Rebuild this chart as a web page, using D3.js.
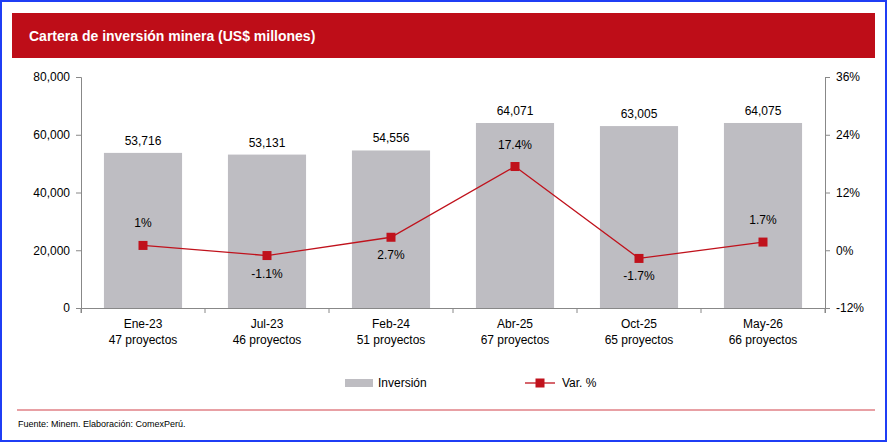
<!DOCTYPE html>
<html><head><meta charset="utf-8">
<script src="https://cdn.jsdelivr.net/npm/d3@7"></script>
<style>body{margin:0;background:#fff;font-family:"Liberation Sans",Arial,sans-serif}</style>
</head><body><div id="chart"></div>
<script>
var w = 887, h = 442;
var periods = ["Ene-23", "Jul-23", "Feb-24", "Abr-25", "Oct-25", "May-26"];
var projects = ["47 proyectos", "46 proyectos", "51 proyectos", "67 proyectos", "65 proyectos", "66 proyectos"];
var inversion = [53716, 53131, 54556, 64071, 63005, 64075];
var varPct = [1, -1.1, 2.7, 17.4, -1.7, 1.7];
var varLabels = ["1%", "-1.1%", "2.7%", "17.4%", "-1.7%", "1.7%"];
var leftTicks = [0, 20000, 40000, 60000, 80000];
var rightTicks = [-12, 0, 12, 24, 36];

var svg = d3.select("#chart").append("svg").attr("width", w).attr("height", h);

// frame
svg.append("rect").attr("x", 1).attr("y", 1).attr("width", w - 2).attr("height", h - 2)
   .attr("fill", "none").attr("stroke", "#1f3df5").attr("stroke-width", 2);

// header
svg.append("rect").attr("x", 12).attr("y", 13).attr("width", 863).attr("height", 45).attr("fill", "#be0d18");
svg.append("text").attr("x", 29).attr("y", 41).attr("fill", "#fff")
   .style("font-size", "14px").style("font-weight", "bold")
   .text("Cartera de inversión minera (US$ millones)");

var pLeft = 81, pRight = 825, pTop = 77, pBottom = 308;
var x = d3.scaleBand().domain(periods).range([pLeft, pRight]).paddingInner(0.37).paddingOuter(0.185);
var y = d3.scaleLinear().domain([0, 80000]).range([pBottom, pTop]);
var y2 = d3.scaleLinear().domain([-12, 36]).range([pBottom, pTop]);

var ax = svg.append("g").attr("transform", "translate(" + pLeft + ",0)")
  .call(d3.axisLeft(y).tickValues(leftTicks).tickSize(5).tickPadding(6).tickFormat(d3.format(",")));
var ax2 = svg.append("g").attr("transform", "translate(" + pRight + ",0)")
  .call(d3.axisRight(y2).tickValues(rightTicks).tickSize(5).tickPadding(6).tickFormat(function(d){ return d + "%"; }));
var xb = d3.scaleBand().domain(periods).range([pLeft, pRight]);
var axb = svg.append("g").attr("transform", "translate(0," + pBottom + ")")
  .call(d3.axisBottom(xb).tickSize(5).tickFormat(""));
axb.selectAll(".tick").attr("transform", function(d){ return "translate(" + (xb(d) + xb.bandwidth()) + ",0)"; });
axb.append("line").attr("x1", pLeft).attr("x2", pLeft).attr("y1", 0).attr("y2", 5).attr("stroke", "#888");
[ax, ax2, axb].forEach(function(a){
  a.selectAll("path,line").attr("stroke", "#888");
  a.selectAll("text").attr("fill", "#000").style("font-size", "12px").style("font-family", "Liberation Sans, Arial, sans-serif");
});

// bars
svg.selectAll("rect.bar").data(inversion).enter().append("rect").attr("class", "bar")
  .attr("x", function(d, i){ return x(periods[i]); })
  .attr("y", function(d){ return y(d); })
  .attr("width", x.bandwidth())
  .attr("height", function(d){ return pBottom - y(d); })
  .attr("fill", "#bebdc2");
svg.selectAll("text.bl").data(inversion).enter().append("text")
  .attr("x", function(d, i){ return x(periods[i]) + x.bandwidth() / 2; })
  .attr("y", function(d){ return y(d) - 8; })
  .attr("text-anchor", "middle").style("font-size", "12px")
  .text(d3.format(","));

// line
var cx = function(d, i){ return x(periods[i]) + x.bandwidth() / 2; };
svg.append("path").datum(varPct)
  .attr("d", d3.line().x(cx).y(function(d){ return y2(d); }))
  .attr("fill", "none").attr("stroke", "#c0121c").attr("stroke-width", 1.3);
svg.selectAll("rect.mk").data(varPct).enter().append("rect")
  .attr("x", function(d, i){ return cx(d, i) - 4.5; })
  .attr("y", function(d){ return y2(d) - 4.5; })
  .attr("width", 9).attr("height", 9).attr("fill", "#c0121c");
var labOff = [-18, 22, 22, -18, 22, -18];
svg.selectAll("text.vl").data(varPct).enter().append("text")
  .attr("x", cx)
  .attr("y", function(d, i){ return y2(d) + labOff[i]; })
  .attr("text-anchor", "middle").style("font-size", "12px")
  .text(function(d, i){ return varLabels[i]; });

// category labels
var cat = svg.selectAll("g.cat").data(periods).enter().append("g");
cat.append("text").attr("x", function(d){ return x(d) + x.bandwidth() / 2; }).attr("y", 328)
  .attr("text-anchor", "middle").style("font-size", "12px").text(function(d){ return d; });
cat.append("text").attr("x", function(d){ return x(d) + x.bandwidth() / 2; }).attr("y", 344)
  .attr("text-anchor", "middle").style("font-size", "12px").text(function(d, i){ return projects[i]; });

// legend
svg.append("rect").attr("x", 345).attr("y", 379).attr("width", 28).attr("height", 8).attr("fill", "#bebdc2");
svg.append("text").attr("x", 378).attr("y", 387).style("font-size", "12px").text("Inversión");
svg.append("line").attr("x1", 525).attr("x2", 555).attr("y1", 383).attr("y2", 383).attr("stroke", "#c0121c").attr("stroke-width", 1.3);
svg.append("rect").attr("x", 535.5).attr("y", 378.5).attr("width", 9).attr("height", 9).attr("fill", "#c0121c");
svg.append("text").attr("x", 562).attr("y", 387).style("font-size", "12px").text("Var. %");

// footer
svg.append("line").attr("x1", 17).attr("x2", 875).attr("y1", 410).attr("y2", 410).attr("stroke", "#d2434b").attr("stroke-width", 1.2);
svg.append("text").attr("x", 18).attr("y", 427).style("font-size", "9px").text("Fuente: Minem. Elaboración: ComexPerú.");
</script></body></html>
